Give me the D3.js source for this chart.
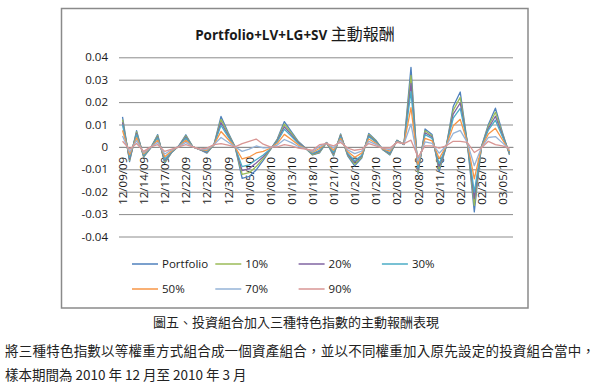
<!DOCTYPE html>
<html>
<head>
<meta charset="utf-8">
<script src="https://cdn.jsdelivr.net/npm/d3@7"></script>
<style>
body { margin: 0; background: #fff; }
svg text { font-family: "Open Sans", "Liberation Sans", sans-serif; }
.cjk { font-family: "Noto Sans CJK TC", "Noto Sans CJK SC", sans-serif; }
</style>
</head>
<body>
<svg id="chart" width="600" height="386"></svg>
<script>
"use strict";

// trading days, Dec 2009 - Mar 2010 (labels shown every 3rd day)
var dates = ["12/09/09","12/10/09","12/11/09","12/14/09","12/15/09","12/16/09","12/17/09","12/18/09",
    "12/21/09","12/22/09","12/23/09","12/24/09","12/25/09","12/28/09","12/29/09","12/30/09","12/31/09",
    "01/04/10","01/05/10","01/06/10","01/07/10","01/08/10","01/11/10","01/12/10","01/13/10","01/14/10",
    "01/15/10","01/18/10","01/19/10","01/20/10","01/21/10","01/22/10","01/25/10","01/26/10","01/27/10",
    "01/28/10","01/29/10","02/01/10","02/02/10","02/03/10","02/04/10","02/05/10","02/08/10","02/09/10",
    "02/10/10","02/11/10","02/12/10","02/22/10","02/23/10","02/24/10","02/25/10","02/26/10","03/02/10",
    "03/04/10","03/05/10","03/08/10"];

var seriesNames = ["Portfolio", "10%", "20%", "30%", "50%", "70%", "90%"];
var seriesColors = ["#4f81bd", "#9bbb59", "#8064a2", "#4bacc6", "#f79646", "#95b3d7", "#d99694"];

var portfolio = [0.0134,-0.0066,0.0073,-0.0045,-0.0005,0.0055,-0.0073,-0.0025,0.0005,0.0054,0,-0.0012,-0.0028,0.0010,
    0.0136,0.0065,0,-0.0140,-0.0132,-0.0103,-0.0060,-0.0013,0.0035,0.0113,0.0068,0.0024,-0.0005,-0.0036,
    -0.0027,0.0020,-0.0040,0.0058,-0.0040,-0.0085,-0.0050,0.0060,0.0030,-0.0013,-0.0036,0.0030,0.0010,0.0355,
    -0.0120,0.0080,0.0055,-0.0110,0,0.0180,0.0245,0.0020,-0.0290,0,0.0100,0.0173,0.0065,-0.0035];
var w10 = [0.0122,-0.0060,0.0067,-0.0042,-0.0004,0.0050,-0.0067,-0.0023,0.0004,0.0049,0,-0.0012,-0.0025,0.0010,
    0.0123,0.0059,0,-0.0123,-0.0115,-0.0088,-0.0052,-0.0012,0.0031,0.0102,0.0061,0.0021,-0.0006,-0.0034,
    -0.0023,0.0019,-0.0035,0.0054,-0.0036,-0.0077,-0.0046,0.0055,0.0027,-0.0012,-0.0033,0.0029,0.0011,0.0319,
    -0.0112,0.0072,0.0049,-0.0098,0.0001,0.0163,0.0221,0.0020,-0.0261,-0.0001,0.0092,0.0155,0.0058,-0.0032];
var w20 = [0.0110,-0.0054,0.0060,-0.0039,-0.0004,0.0045,-0.0061,-0.0022,0.0004,0.0044,0,-0.0012,-0.0023,0.0010,
    0.0109,0.0052,0,-0.0106,-0.0097,-0.0072,-0.0044,-0.0010,0.0027,0.0090,0.0054,0.0018,-0.0006,-0.0031,
    -0.0019,0.0019,-0.0030,0.0050,-0.0032,-0.0069,-0.0041,0.0050,0.0024,-0.0011,-0.0029,0.0028,0.0011,0.0283,
    -0.0103,0.0063,0.0044,-0.0087,0.0001,0.0146,0.0196,0.0020,-0.0231,-0.0001,0.0083,0.0137,0.0052,-0.0028];
var w30 = [0.0098,-0.0047,0.0054,-0.0037,-0.0003,0.0040,-0.0055,-0.0020,0.0003,0.0039,0,-0.0011,-0.0020,0.0010,
    0.0096,0.0046,0,-0.0088,-0.0080,-0.0057,-0.0036,-0.0009,0.0023,0.0079,0.0047,0.0014,-0.0007,-0.0029,
    -0.0015,0.0018,-0.0025,0.0045,-0.0028,-0.0062,-0.0037,0.0045,0.0022,-0.0010,-0.0026,0.0027,0.0012,0.0247,
    -0.0095,0.0055,0.0038,-0.0075,0.0002,0.0128,0.0172,0.0020,-0.0202,-0.0002,0.0075,0.0119,0.0045,-0.0025];
var w50 = [0.0074,-0.0035,0.0041,-0.0031,-0.0002,0.0030,-0.0044,-0.0017,0.0002,0.0030,0,-0.0011,-0.0015,0.0010,
    0.0069,0.0034,0,-0.0054,-0.0045,-0.0027,-0.0020,-0.0006,0.0016,0.0056,0.0033,0.0008,-0.0008,-0.0024,
    -0.0007,0.0017,-0.0015,0.0037,-0.0021,-0.0046,-0.0028,0.0035,0.0016,-0.0009,-0.0019,0.0024,0.0013,0.0175,
    -0.0078,0.0038,0.0027,-0.0052,0.0003,0.0094,0.0123,0.0020,-0.0143,-0.0003,0.0058,0.0083,0.0032,-0.0019];
var w70 = [0.0049,-0.0023,0.0028,-0.0025,-0.0001,0.0020,-0.0032,-0.0013,0.0001,0.0020,0,-0.0011,-0.0010,0.0010,
    0.0042,0.0021,0,-0.0020,-0.0010,0.0004,-0.0004,-0.0003,0.0008,0.0033,0.0019,0.0002,-0.0009,-0.0020,
    0.0002,0.0016,-0.0005,0.0029,-0.0013,-0.0030,-0.0019,0.0025,0.0011,-0.0007,-0.0012,0.0022,0.0014,0.0102,
    -0.0062,0.0022,0.0016,-0.0028,0.0004,0.0060,0.0074,0.0020,-0.0084,-0.0004,0.0042,0.0046,0.0018,-0.0012];
var w90 = [0.0025,-0.0010,0.0015,-0.0020,0,0.0010,-0.0020,-0.0010,0,0.0010,0,-0.0010,-0.0005,0.0010,
    0.0015,0.0008,0,0.0015,0.0025,0.0035,0.0012,0,0,0.0010,0.0005,-0.0005,-0.0010,-0.0015,
    0.0010,0.0015,0.0005,0.0020,-0.0005,-0.0015,-0.0010,0.0015,0.0005,-0.0005,-0.0005,0.0020,0.0015,0.0030,
    -0.0045,0.0005,0.0005,-0.0005,0.0005,0.0025,0.0025,0.0020,-0.0025,-0.0005,0.0025,0.0010,0.0005,-0.0005];

var yTicks = [0.04, 0.03, 0.02, 0.01, 0, -0.01, -0.02, -0.03, -0.04];

var allSeries = [portfolio, w10, w20, w30, w50, w70, w90];

var svg = d3.select("#chart");

// outer chart frame
svg.append("rect")
    .attr("x", 61.5).attr("y", 8.5)
    .attr("width", 466.5).attr("height", 299.5)
    .attr("fill", "#fff")
    .attr("stroke", "#8a8a8a")
    .attr("stroke-width", 1.5);

// title: latin part bold, chinese part regular
var title = svg.append("text")
    .attr("x", 295).attr("y", 40)
    .attr("text-anchor", "middle")
    .attr("fill", "#1a1a1a");
title.append("tspan").attr("font-size", 13.5).attr("font-weight", "bold").text("Portfolio+LV+LG+SV ");
title.append("tspan").attr("class", "cjk").attr("font-size", 16).text("主動報酬");

var x = d3.scalePoint()
    .domain(dates)
    .range([119, 513])
    .padding(0.5);

var y = d3.scaleLinear()
    .domain([-0.04, 0.04])
    .range([236.5, 57.3]);

// gridlines + y labels
var yAxis = svg.append("g")
    .attr("transform", "translate(119,0)")
    .call(d3.axisLeft(y)
        .tickValues(yTicks)
        .tickSize(-(513 - 119))
        .tickPadding(11)
        .tickFormat(function(d) { return d === 0 ? "0" : d.toFixed(2); }));
yAxis.select(".domain").remove();
yAxis.selectAll(".tick line").attr("stroke", "#8c8c8c").attr("stroke-width", 1);
yAxis.selectAll(".tick text")
    .attr("font-size", 11.5)
    .attr("fill", "#1a1a1a")
    .style("font-family", "\"Open Sans\", sans-serif");

// category axis at zero, every third label, rotated
var xAxis = svg.append("g")
    .attr("transform", "translate(0," + y(0) + ")")
    .call(d3.axisBottom(x)
        .tickValues(dates.filter(function(d, i) { return i % 3 === 0; }))
        .tickSize(0)
        .tickPadding(0));
xAxis.select(".domain").attr("stroke", "#8c8c8c");
xAxis.selectAll(".tick text")
    .attr("transform", "rotate(-90)")
    .attr("text-anchor", "end")
    .attr("x", -10)
    .attr("y", 0)
    .attr("dy", "0.35em")
    .attr("font-size", 11.5)
    .attr("fill", "#1a1a1a")
    .style("font-family", "\"Open Sans\", sans-serif");

// lines, portfolio first so the weighted ones sit above it
var line = d3.line()
    .x(function(d, i) { return x(dates[i]); })
    .y(function(d) { return y(d); });

svg.append("g")
    .selectAll("path")
    .data(allSeries)
    .enter().append("path")
    .attr("d", line)
    .attr("fill", "none")
    .attr("stroke", function(d, i) { return seriesColors[i]; })
    .attr("stroke-width", 1.3)
    .attr("stroke-linejoin", "round");

// legend: two rows of four
var legend = svg.append("g")
    .selectAll("g")
    .data(seriesNames)
    .enter().append("g")
    .attr("transform", function(d, i) {
        return "translate(" + (132 + (i % 4) * 83.3) + "," + (264 + Math.floor(i / 4) * 25) + ")";
    });
legend.append("line")
    .attr("x1", 0).attr("x2", 26)
    .attr("stroke", function(d, i) { return seriesColors[i]; })
    .attr("stroke-width", 1.5);
legend.append("text")
    .attr("x", 30)
    .attr("dy", "0.35em")
    .attr("font-size", 11.5)
    .attr("fill", "#1a1a1a")
    .text(function(d) { return d; });

// caption and notes under the chart
svg.append("text")
    .attr("class", "cjk")
    .attr("x", 296).attr("y", 327)
    .attr("text-anchor", "middle")
    .attr("font-size", 13)
    .attr("fill", "#222")
    .text("圖五、投資組合加入三種特色指數的主動報酬表現");

svg.append("text")
    .attr("class", "cjk")
    .attr("x", 5).attr("y", 356)
    .attr("font-size", 13.5)
    .attr("textLength", 590)
    .attr("fill", "#222")
    .text("將三種特色指數以等權重方式組合成一個資產組合，並以不同權重加入原先設定的投資組合當中，");

svg.append("text")
    .attr("class", "cjk")
    .attr("x", 5).attr("y", 380)
    .attr("font-size", 13.5)
    .attr("fill", "#222")
    .text("樣本期間為 2010 年 12 月至 2010 年 3 月");
</script>
</body>
</html>
